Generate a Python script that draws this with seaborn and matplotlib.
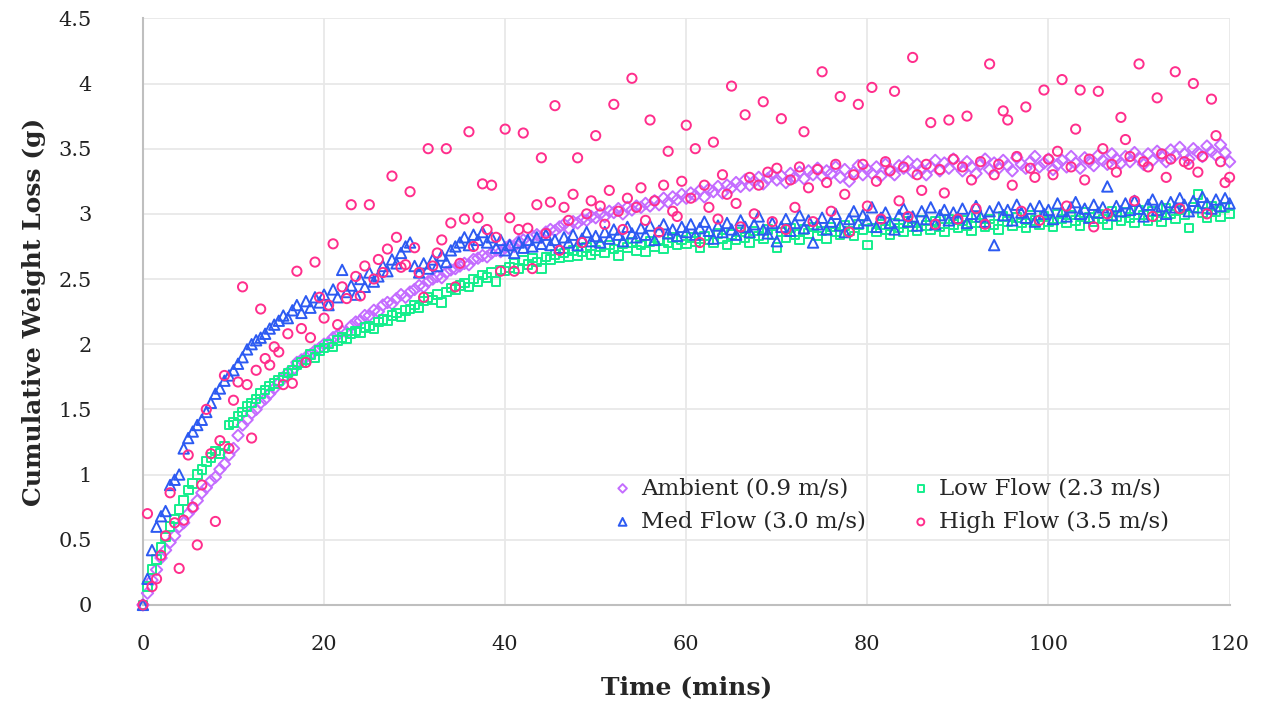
import numpy as np
import pandas as pd
import matplotlib
matplotlib.use("Agg")
import matplotlib.pyplot as plt
from matplotlib.ticker import FuncFormatter
import seaborn as sns

sns.set_style("white")
plt.rcParams['font.family'] = ['DejaVu Serif']

# time axis, one reading every half minute
time = np.arange(0, 120.5, 0.5)

ambient = [
    0.00, 0.09, 0.19, 0.27, 0.36, 0.42, 0.48, 0.53, 0.60, 0.63,
    0.70, 0.74, 0.80, 0.86, 0.90, 0.95, 0.98, 1.04, 1.08, 1.15,
    1.20, 1.30, 1.38, 1.42, 1.47, 1.50, 1.55, 1.58, 1.62, 1.66,
    1.70, 1.74, 1.78, 1.80, 1.86, 1.88, 1.90, 1.92, 1.95, 1.97,
    2.00, 2.01, 2.05, 2.07, 2.10, 2.09, 2.14, 2.17, 2.18, 2.22,
    2.22, 2.26, 2.25, 2.30, 2.32, 2.31, 2.35, 2.38, 2.36, 2.40,
    2.42, 2.45, 2.44, 2.48, 2.50, 2.52, 2.51, 2.55, 2.57, 2.58,
    2.60, 2.62, 2.61, 2.65, 2.66, 2.68, 2.67, 2.70, 2.72, 2.71,
    2.74, 2.76, 2.75, 2.79, 2.80, 2.78, 2.83, 2.84, 2.82, 2.86,
    2.88, 2.87, 2.90, 2.92, 2.89, 2.94, 2.93, 2.96, 2.95, 2.98,
    2.97, 3.00, 2.98, 3.02, 3.01, 3.04, 3.00, 3.05, 3.03, 3.06,
    3.05, 3.08, 3.06, 3.10, 3.07, 3.12, 3.09, 3.13, 3.11, 3.15,
    3.12, 3.16, 3.14, 3.18, 3.13, 3.19, 3.17, 3.21, 3.16, 3.22,
    3.20, 3.24, 3.21, 3.26, 3.22, 3.25, 3.28, 3.23, 3.27, 3.30,
    3.26, 3.29, 3.24, 3.31, 3.28, 3.32, 3.27, 3.33, 3.30, 3.35,
    3.29, 3.33, 3.31, 3.36, 3.28, 3.34, 3.25, 3.32, 3.37, 3.30,
    3.34, 3.31, 3.36, 3.29, 3.38, 3.33, 3.30, 3.37, 3.35, 3.40,
    3.32, 3.38, 3.34, 3.30, 3.36, 3.41, 3.33, 3.39, 3.35, 3.42,
    3.37, 3.33, 3.40, 3.36, 3.31, 3.38, 3.42, 3.34, 3.39, 3.35,
    3.41, 3.37, 3.33, 3.43, 3.38, 3.35, 3.40, 3.44, 3.36, 3.39,
    3.42, 3.34, 3.38, 3.41, 3.36, 3.44, 3.39, 3.35, 3.43, 3.40,
    3.37, 3.45, 3.41, 3.38, 3.46, 3.42, 3.39, 3.44, 3.40, 3.47,
    3.43, 3.38, 3.46, 3.41, 3.48, 3.44, 3.40, 3.49, 3.45, 3.51,
    3.46, 3.42, 3.50, 3.47, 3.44, 3.52, 3.48, 3.45, 3.53, 3.47,
    3.40,
]

low_flow = [
    0.00, 0.14, 0.27, 0.35, 0.44, 0.52, 0.60, 0.66, 0.73, 0.80,
    0.88, 0.93, 1.00, 1.04, 1.10, 1.13, 1.18, 1.16, 1.22, 1.38,
    1.40, 1.45, 1.48, 1.52, 1.55, 1.58, 1.62, 1.65, 1.68, 1.70,
    1.72, 1.75, 1.78, 1.80, 1.84, 1.86, 1.88, 1.92, 1.90, 1.95,
    1.97, 2.00, 1.98, 2.03, 2.05, 2.04, 2.08, 2.10, 2.09, 2.13,
    2.14, 2.12, 2.17, 2.19, 2.18, 2.22, 2.24, 2.21, 2.26, 2.27,
    2.30, 2.28, 2.33, 2.36, 2.34, 2.38, 2.32, 2.40, 2.43, 2.42,
    2.45, 2.47, 2.44, 2.50, 2.48, 2.53, 2.51, 2.55, 2.48, 2.57,
    2.56, 2.59, 2.62, 2.58, 2.64, 2.61, 2.66, 2.63, 2.58, 2.67,
    2.65, 2.69, 2.66, 2.70, 2.67, 2.72, 2.68, 2.71, 2.74, 2.69,
    2.72, 2.75, 2.70, 2.76, 2.73, 2.68, 2.77, 2.74, 2.78, 2.72,
    2.76, 2.71, 2.79, 2.75, 2.80, 2.73, 2.78, 2.82, 2.76, 2.80,
    2.77, 2.82, 2.79, 2.74, 2.83, 2.80, 2.78, 2.85, 2.81, 2.76,
    2.84, 2.80, 2.86, 2.82, 2.78, 2.87, 2.83, 2.81, 2.88, 2.84,
    2.74, 2.86, 2.82, 2.89, 2.84, 2.80, 2.88, 2.85, 2.90, 2.83,
    2.87, 2.81, 2.90, 2.86, 2.84, 2.91, 2.87, 2.83, 2.92, 2.88,
    2.76, 2.89, 2.86, 2.92, 2.88, 2.84, 2.93, 2.89, 2.86, 2.94,
    2.90, 2.87, 2.95, 2.91, 2.88, 2.94, 2.90, 2.86, 2.96, 2.92,
    2.89, 2.95, 2.91, 2.87, 2.97, 2.93, 2.90, 2.96, 2.92, 2.88,
    2.98, 2.94, 2.91, 2.97, 2.93, 2.89, 2.99, 2.95, 2.92, 2.98,
    2.94, 2.90, 3.00, 2.96, 2.93, 2.99, 2.95, 2.91, 3.01, 2.97,
    2.94, 3.00, 2.96, 2.92, 3.02, 2.98, 2.95, 3.01, 2.97, 2.93,
    3.03, 2.99, 2.95, 3.02, 2.98, 2.94, 3.04, 3.00, 2.96, 3.03,
    2.99, 2.89, 3.05, 3.15, 3.01, 2.97, 3.06, 3.02, 2.98, 3.05,
    3.00,
]

med_flow = [
    0.00, 0.20, 0.42, 0.60, 0.68, 0.72, 0.92, 0.96, 1.00, 1.20,
    1.28, 1.33, 1.38, 1.42, 1.48, 1.55, 1.62, 1.66, 1.72, 1.76,
    1.80, 1.85, 1.90, 1.96, 2.00, 2.03, 2.05, 2.08, 2.12, 2.15,
    2.18, 2.22, 2.20, 2.26, 2.30, 2.24, 2.33, 2.28, 2.36, 2.32,
    2.38, 2.30, 2.42, 2.36, 2.57, 2.40, 2.45, 2.38, 2.50, 2.44,
    2.55, 2.48, 2.52, 2.60, 2.56, 2.65, 2.62, 2.70, 2.75, 2.78,
    2.60, 2.55, 2.62, 2.58, 2.65, 2.60, 2.68, 2.63, 2.72, 2.75,
    2.78, 2.82, 2.76, 2.84, 2.80, 2.86, 2.78, 2.82, 2.74, 2.80,
    2.72, 2.76, 2.70, 2.78, 2.74, 2.80, 2.75, 2.82, 2.77, 2.84,
    2.76, 2.80, 2.74, 2.82, 2.78, 2.84, 2.76, 2.81, 2.86, 2.79,
    2.83, 2.78, 2.86, 2.81, 2.88, 2.84, 2.79, 2.90, 2.85, 2.82,
    2.89, 2.84, 2.91, 2.80, 2.87, 2.92, 2.85, 2.88, 2.83, 2.90,
    2.86, 2.92, 2.84, 2.89, 2.94, 2.87, 2.81, 2.91, 2.86, 2.93,
    2.88, 2.84, 2.95, 2.90, 2.86, 2.92, 2.98, 2.88, 2.85, 2.93,
    2.79, 2.90, 2.96, 2.87, 2.93, 2.99, 2.89, 2.95, 2.78, 2.92,
    2.97, 2.88, 2.94, 3.00, 2.91, 2.86, 2.96, 3.02, 2.93, 2.99,
    2.95, 3.05, 2.90, 2.97, 3.01, 2.93, 2.88, 2.99, 3.04, 2.94,
    2.98, 2.91, 3.02, 2.96, 3.05, 2.92, 2.99, 3.03, 2.95, 3.01,
    2.97, 3.04, 2.93, 3.00, 3.06, 2.98, 2.94, 3.02, 2.76, 3.05,
    2.99, 3.03, 2.95, 3.07, 3.01, 2.97, 3.04, 2.94, 3.06, 3.00,
    3.03, 2.96, 3.08, 3.02, 2.98, 3.05, 3.09, 3.00, 3.04, 2.97,
    3.07, 3.01, 3.05, 3.21, 2.99, 3.06, 3.02, 3.08, 3.03, 3.10,
    3.04, 2.98, 3.07, 3.11, 3.03, 3.06, 3.00, 3.09, 3.05, 3.12,
    3.07, 3.02, 3.10, 3.05, 3.13, 3.08, 3.04, 3.11, 3.06, 3.12,
    3.08,
]

high_flow = [
    0.00, 0.70, 0.14, 0.20, 0.38, 0.53, 0.86, 0.63, 0.28, 0.65,
    1.15, 0.75, 0.46, 0.92, 1.50, 1.16, 0.64, 1.26, 1.76, 1.20,
    1.57, 1.71, 2.44, 1.69, 1.28, 1.80, 2.27, 1.89, 1.84, 1.98,
    1.94, 1.69, 2.08, 1.70, 2.56, 2.12, 1.86, 2.05, 2.63, 2.36,
    2.20, 2.30, 2.77, 2.15, 2.44, 2.35, 3.07, 2.52, 2.37, 2.60,
    3.07, 2.50, 2.65, 2.55, 2.73, 3.29, 2.82, 2.59, 2.61, 3.17,
    2.74, 2.55, 2.36, 3.50, 2.60, 2.70, 2.80, 3.50, 2.93, 2.44,
    2.62, 2.96, 3.63, 2.75, 2.97, 3.23, 2.88, 3.22, 2.82, 2.56,
    3.65, 2.97, 2.56, 2.88, 3.62, 2.89, 2.58, 3.07, 3.43, 2.85,
    3.09, 3.83, 2.72, 3.05, 2.95, 3.15, 3.43, 2.78, 3.00, 3.10,
    3.60, 3.06, 2.92, 3.18, 3.84, 3.02, 2.88, 3.12, 4.04, 3.05,
    3.20, 2.95, 3.72, 3.10, 2.86, 3.22, 3.48, 3.02, 2.98, 3.25,
    3.68, 3.12, 3.50, 2.78, 3.22, 3.05, 3.55, 2.96, 3.30, 3.15,
    3.98, 3.08, 2.90, 3.76, 3.28, 3.00, 3.22, 3.86, 3.32, 2.94,
    3.35, 3.73, 2.88, 3.26, 3.05, 3.36, 3.63, 3.20, 2.94, 3.34,
    4.09, 3.24, 3.02, 3.38, 3.90, 3.15, 2.86, 3.30, 3.84, 3.38,
    3.06, 3.97, 3.25, 2.96, 3.40, 3.33, 3.94, 3.10, 3.36, 2.98,
    4.20, 3.30, 3.18, 3.38, 3.70, 2.92, 3.34, 3.16, 3.72, 3.42,
    2.96, 3.36, 3.75, 3.26, 3.04, 3.40, 2.92, 4.15, 3.30, 3.38,
    3.79, 3.72, 3.22, 3.44, 3.02, 3.82, 3.35, 3.28, 2.95, 3.95,
    3.42, 3.30, 3.48, 4.03, 3.06, 3.36, 3.65, 3.95, 3.26, 3.42,
    2.90, 3.94, 3.50, 3.00, 3.38, 3.32, 3.74, 3.57, 3.44, 3.10,
    4.15, 3.40, 3.36, 2.98, 3.89, 3.46, 3.28, 3.42, 4.09, 3.04,
    3.40, 3.38, 4.00, 3.32, 3.44, 3.00, 3.88, 3.60, 3.40, 3.24,
    3.28,
]

labels = ["Ambient (0.9 m/s)", "Low Flow (2.3 m/s)",
          "Med Flow (3.0 m/s)", "High Flow (3.5 m/s)"]
series = [ambient, low_flow, med_flow, high_flow]
colors = ["#C46CFF", "#14EE8C", "#2C5AF2", "#FF2E8C"]
markers = ["D", "s", "^", "o"]
sizes = [34, 38, 56, 44]

df = pd.concat(
    [pd.DataFrame({"time": time, "loss": vals, "series": lab})
     for lab, vals in zip(labels, series)],
    ignore_index=True)

fig = plt.figure(figsize=(12.65, 7.05), dpi=100)
ax = fig.add_axes([0.113, 0.142, 0.859, 0.832])

for lab, c, m, s in zip(labels, colors, markers, sizes):
    sub = df[df["series"] == lab]
    sns.scatterplot(data=sub, x="time", y="loss", ax=ax, color=c,
                    facecolor="none", edgecolor=c, marker=m, s=s,
                    linewidth=1.4, label=lab, clip_on=False, zorder=3)

ax.set_xlim(0, 120)
ax.set_ylim(0, 4.5)
ax.set_xticks(np.arange(0, 121, 20))
ax.set_yticks(np.arange(0, 4.51, 0.5))
ax.yaxis.set_major_formatter(FuncFormatter(lambda v, p: f"{v:g}"))
ax.grid(True, color="#E8E8E8", linewidth=1.3)
ax.set_axisbelow(True)
for side in ["top", "right"]:
    ax.spines[side].set_visible(False)
for side in ["left", "bottom"]:
    ax.spines[side].set_color("#BFBFBF")
    ax.spines[side].set_linewidth(1.5)
ax.tick_params(axis="both", length=0, labelsize=15, colors="#222222")
ax.tick_params(axis="y", pad=37)
ax.tick_params(axis="x", pad=22)

ax.set_xlabel("Time (mins)", fontsize=18, fontweight="bold", labelpad=15)
ax.set_ylabel("Cumulative Weight Loss (g)", fontsize=18, fontweight="bold",
              labelpad=9)

h, l = ax.get_legend_handles_labels()
order = [0, 2, 1, 3]
ax.legend([h[i] for i in order], [l[i] for i in order], ncol=2,
          frameon=False, fontsize=16.5, loc="center left",
          bbox_to_anchor=(0.414, 0.17), handlelength=0.8, handletextpad=0.4,
          columnspacing=2.0, markerscale=0.75, labelspacing=0.5)

fig.savefig("out.png", dpi=100)
